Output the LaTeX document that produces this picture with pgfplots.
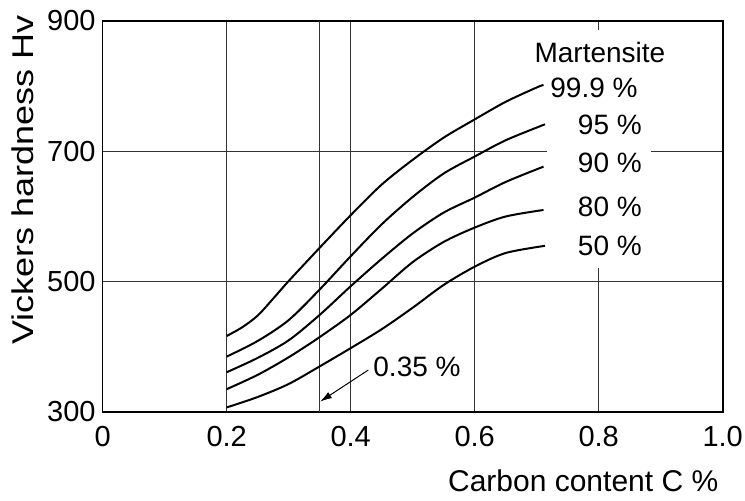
\documentclass[border=0pt]{standalone}
\usepackage{fontspec}
\setmainfont{Liberation Sans}
\usepackage{pgfplots}
\pgfplotsset{compat=1.18}
\usetikzlibrary{arrows.meta}
\begin{document}
\begin{tikzpicture}[font=\fontsize{14pt}{16pt}\selectfont]
\begin{axis}[
  at={(0,0)}, anchor=south west,
  scale only axis, width=310pt, height=195.5pt,
  xmin=0, xmax=1, ymin=300, ymax=900,
  xtick={0,0.2,0.4,0.6,0.8,1}, xticklabels={0,0.2,0.4,0.6,0.8,1.0},
  ytick={300,500,700,900},
  extra x ticks={0.35}, extra x tick labels={}, extra x tick style={grid=major},
  grid=major, major grid style={line width=0.5pt, black!80},
  major tick length=0pt,
  axis line style={line width=0.8pt},
  tick label style={font=\fontsize{14.5pt}{16pt}\selectfont},
  xticklabel style={yshift=-3.5pt},
  /pgf/number format/assume math mode=true,
  xlabel={Carbon content C \%},
  ylabel={\scalebox{1.2}[1]{Vickers hardness Hv}},
  xlabel style={at={(axis description cs:0.775,-0.176)}, anchor=center, font=\fontsize{15pt}{17pt}\selectfont},
  ylabel style={at={(axis description cs:-0.1294,0.593)}, anchor=center, font=\fontsize{15pt}{17pt}\selectfont},
  clip=false,
]
% 99.9 %
\addplot[black, line width=1pt, smooth] coordinates {
(0.20,416.6) (0.225,430) (0.25,448) (0.275,474) (0.30,501) (0.35,552)
(0.40,602) (0.45,649) (0.50,687) (0.55,721) (0.60,749) (0.65,776)
(0.70,798) (0.711,801.8)};
% 95 %
\addplot[black, line width=1pt, smooth] coordinates {
(0.20,385) (0.25,409) (0.30,441) (0.35,488) (0.40,539) (0.45,588)
(0.50,630) (0.55,666) (0.60,692) (0.65,717) (0.7134,741.5)};
% 90 %
\addplot[black, line width=1pt, smooth] coordinates {
(0.20,361) (0.25,383) (0.30,410) (0.35,449) (0.40,493) (0.45,535)
(0.50,574) (0.55,606) (0.60,629) (0.65,653) (0.711,676.5)};
% 80 %
\addplot[black, line width=1pt, smooth] coordinates {
(0.20,335) (0.25,357) (0.30,384) (0.35,415) (0.40,449) (0.45,489)
(0.50,530) (0.55,561) (0.60,583) (0.65,600) (0.711,610)};
% 50 %
\addplot[black, line width=1pt, smooth] coordinates {
(0.20,307) (0.25,323) (0.30,343) (0.35,370) (0.40,398) (0.45,427)
(0.50,460) (0.55,495) (0.60,523) (0.65,544) (0.7134,555)};
\fill[white] (axis cs:0.716,521) rectangle (axis cs:0.885,886);
\node[anchor=center] at (axis cs:0.802,852) {Martensite};
\node[anchor=west, inner sep=0pt] at (axis cs:0.7215,797) {99.9 \%};
\node[anchor=center] at (axis cs:0.818,740) {95 \%};
\node[anchor=center] at (axis cs:0.818,682) {90 \%};
\node[anchor=center] at (axis cs:0.818,614.6) {80 \%};
\node[anchor=center] at (axis cs:0.818,555.2) {50 \%};
\node[anchor=west, inner sep=0pt] at (axis cs:0.436,369) {0.35 \%};
\draw[-{Latex[length=6pt,width=3.5pt]}, line width=0.5pt] (axis cs:0.4284,364.4) -- (axis cs:0.3505,315.8);
\end{axis}
\pgfresetboundingbox
\path[use as bounding box] (-51.35pt,-44.5pt) rectangle (321.15pt,206pt);
\end{tikzpicture}
\end{document}
